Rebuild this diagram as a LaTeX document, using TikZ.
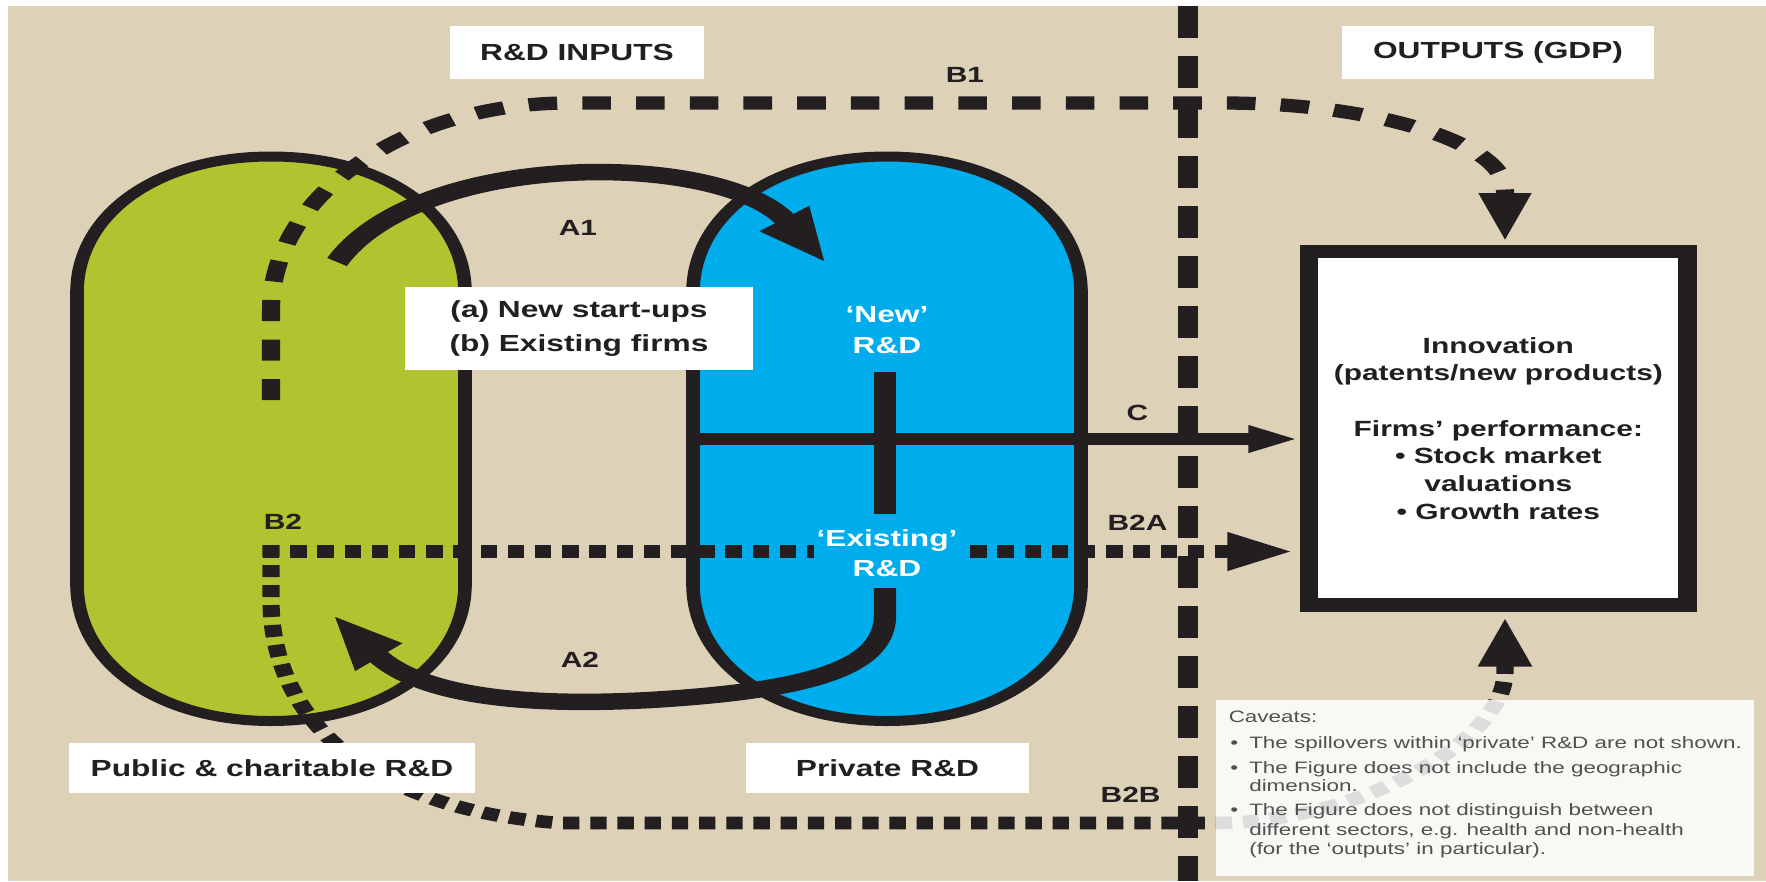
\documentclass[tikz,border=0pt]{standalone}
\usepackage{fontspec}
\setmainfont{Liberation Sans}
\usetikzlibrary{arrows.meta}
\definecolor{bgbeige}{RGB}{221,210,184}
\definecolor{pillgreen}{RGB}{177,196,48}
\definecolor{pillblue}{RGB}{0,173,236}
\definecolor{ink}{RGB}{35,31,32}
\definecolor{cavgrey}{RGB}{80,80,80}
\tikzset{
  pillline/.style={draw=ink, line width=10pt},
  titlebox/.style={fill=white, inner sep=0pt, text=ink, font=\bfseries\fontsize{23.3}{28}\selectfont},
  pilltext/.style={text=white, align=center, inner sep=2pt, font=\bfseries\fontsize{23.3}{30.5}\selectfont},
  lbl/.style={text=ink, inner sep=0pt, font=\bfseries\fontsize{22}{26}\selectfont},
  bonedash/.style={draw=ink, line width=13.3pt, dash pattern=on 21pt off 18.5pt},
  dotdash/.style={draw=ink, line width=12.6pt, dash pattern=on 12pt off 8pt},
  divline/.style={draw=ink, line width=14pt, dash pattern=on 32pt off 18pt},
  thickarrow/.style={draw=ink, line width=16.5pt},
  cline/.style={draw=ink, line width=12pt},
  innovbox/.style={draw=ink, line width=13.3pt, fill=white, minimum width=278.2pt, minimum height=353.3pt, inner sep=0pt, align=center, text=ink, font=\bfseries\fontsize{22}{27.7}\selectfont},
  cav/.style={anchor=base west, inner sep=0pt, text=cavgrey, font=\fontsize{16.5}{18.5}\selectfont},
}
\begin{document}
\begin{tikzpicture}[x=1pt,y=-1pt]
\useasboundingbox (0,0) rectangle (1766,881);
\fill[white] (0,0) rectangle (1766,881);
\fill[bgbeige] (8,6) rectangle (1766,881);
\begin{scope}[transform canvas={xscale=1.36}, x=0.735294pt]

% pills
\filldraw[pillline, fill=pillgreen] (77,292.7) .. controls (77,213.2) and (158.5,156.5) .. (271,156.5) .. controls (383.5,156.5) and (465,213.2) .. (465,292.7) -- (465,584) .. controls (465,663.5) and (383.5,721) .. (271,721) .. controls (158.5,721) and (77,663.5) .. (77,584) -- cycle;
\filldraw[pillline, fill=pillblue] (693,292.7) .. controls (693,213.2) and (774.5,156.5) .. (887,156.5) .. controls (999.5,156.5) and (1081,213.2) .. (1081,292.7) -- (1081,584) .. controls (1081,663.5) and (999.5,721) .. (887,721) .. controls (774.5,721) and (693,663.5) .. (693,584) -- cycle;

% output box
\node[innovbox] (innov) at (1498.35,428.35) {Innovation\\(patents/new products)\\[27.7pt]Firms’ performance:\\• Stock market\\valuations\\• Growth rates};

% coordinates
\coordinate (b1s) at (271,400);
\coordinate (b1k) at (271,310);
\coordinate (b1l) at (569,103);
\coordinate (b1r) at (1223,103);
\coordinate (b1d) at (1505,190);
\coordinate (a1s) at (337,262);
\coordinate (a1e) at (826,263);
\coordinate (a2s) at (885,588);
\coordinate (a2e) at (333,615);
\coordinate (bartop) at (885,372);
\coordinate (barbot) at (885,513.6);
\coordinate (cs) at (692,439);
\coordinate (b2o) at (263,551.5);
\coordinate (b2v) at (271,545);
\coordinate (b2h) at (560,823);
\coordinate (b2hr) at (1215,823);
\coordinate (b2d) at (1505,672);
\coordinate (divtop) at (1188,6);
\coordinate (divbot) at (1188,881);

% B1
\draw[bonedash, -{Triangle[length=49pt,width=35pt]}, shorten >=3pt] (b1s) -- (b1k) .. controls (271,195.7) and (404.8,103) .. (b1l) -- (b1r) .. controls (1378.7,103) and (1505,144) .. (b1d) -- (b1d |- innov.north);

% A1
\draw[thickarrow, -{Triangle[length=54pt,width=40pt]}] (a1s) .. controls (420,150) and (720,150) .. (a1e);

% vertical bar and A2
\draw[thickarrow] (bartop) -- (barbot);
\draw[thickarrow, -{Triangle[length=54pt,width=40pt]}] (a2s) -- (885,615) .. controls (885,665) and (820,690) .. (650,700) .. controls (520,707) and (420,695) .. (a2e);

% C
\draw[cline, -{Triangle[length=36pt,width=25pt]}, shorten >=2pt] (cs) -- (cs -| innov.west);

% B2A
\draw[dotdash, -{Triangle[length=48.5pt,width=35pt]}, shorten >=5pt] (b2o) -- (b2o -| innov.west);
% B2 / B2B
\draw[dotdash, -{Triangle[length=50pt,width=36pt]}, shorten >=5pt] (b2v) -- (271,600) .. controls (271,720) and (370,810) .. (b2h) -- (b2hr) .. controls (1360,823) and (1505,740) .. (b2d) -- (b2d |- innov.south);

% divider
\draw[divline] (divtop) -- (divbot);

% boxes
\node[titlebox, minimum width=186.8pt, minimum height=53pt] (inputs) at (577,52.5) {R\&D INPUTS};
\node[titlebox, minimum width=229.4pt, minimum height=53pt] (outputs) at (1498,52.5) {OUTPUTS (GDP)};
\node[titlebox, minimum width=255.9pt, minimum height=83pt, align=center, font=\bfseries\fontsize{23.3}{34}\selectfont] (firms) at (579,328.5) {(a) New start-ups\\(b) Existing firms};
\node[titlebox, minimum width=298.5pt, minimum height=50pt] (public) at (272,768) {Public \& charitable R\&D};
\node[titlebox, minimum width=207.4pt, minimum height=50pt] (private) at (887.5,768) {Private R\&D};

% caveats
\node[fill=white, fill opacity=0.85, minimum width=395.6pt, minimum height=176pt, inner sep=0pt] (cavbox) at (1485,788) {};
\node[cav] (cavhead) at (1228.5,722) {Caveats:};
\node[cav] (cb1) at (1230,748) {•};
\node[cav] (ct1) at (1249,748) {The spillovers within ‘private’ R\&D are not shown.};
\node[cav] (cb2) at (1230,773) {•};
\node[cav] (ct2) at (1249,773) {The Figure does not include the geographic};
\node[cav] (ct3) at (1249,791) {dimension.};
\node[cav] (cb3) at (1230,815) {•};
\node[cav] (ct4) at (1249,815) {The Figure does not distinguish between};
\node[cav] (ct5) at (1249,835) {different sectors, e.g. health and non-health};
\node[cav] (ct6) at (1249,854) {(for the ‘outputs’ in particular).};

% pill texts
\node[pilltext] (newrd) at (887,330) {‘New’\\R\&D};
\node[pilltext, fill=pillblue] (existrd) at (887,553) {‘Existing’\\R\&D};

% labels
\node[lbl] (lA1) at (578,228) {A1};
\node[lbl] (lA2) at (580,660) {A2};
\node[lbl] (lB1) at (965,75) {B1};
\node[lbl] (lC) at (1137.5,413) {C};
\node[lbl] (lB2A) at (1137.5,523) {B2A};
\node[lbl] (lB2B) at (1130.6,795) {B2B};
\node[lbl] (lB2) at (283,521.7) {B2};

\end{scope}
\end{tikzpicture}
\end{document}
